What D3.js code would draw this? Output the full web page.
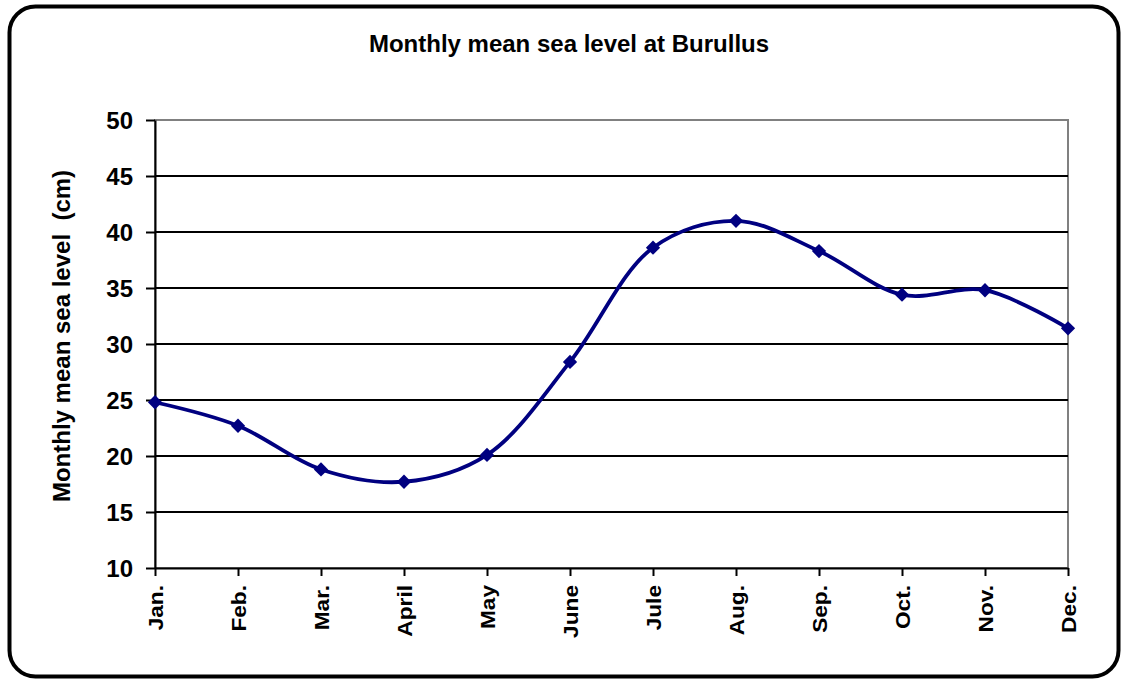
<!DOCTYPE html>
<html>
<head>
<meta charset="utf-8">
<script src="https://cdn.jsdelivr.net/npm/d3@7"></script>
<style>
  body { margin: 0; background: #fff; }
  text { font-family: "Liberation Sans", Arial, sans-serif; font-weight: bold; fill: #000; }
</style>
</head>
<body>
<div id="chart"></div>
<script>
// data
var months = ["Jan.", "Feb.", "Mar.", "April", "May", "June", "Jule", "Aug.", "Sep.", "Oct.", "Nov.", "Dec."];
var seaLevel = [24.8, 22.7, 18.8, 17.7, 20.1, 28.4, 38.6, 41.0, 38.3, 34.4, 34.8, 31.4];
var yTicks = [10, 15, 20, 25, 30, 35, 40, 45, 50];

var W = 1121, H = 681;
var margin = {top: 120, right: 53, bottom: 113, left: 155},
    width = W - margin.left - margin.right,
    height = H - margin.top - margin.bottom;

var svg = d3.select("#chart").append("svg")
    .attr("width", W)
    .attr("height", H);

// outer frame
svg.append("rect")
    .attr("x", 9.5).attr("y", 6.5)
    .attr("width", 1109).attr("height", 670)
    .attr("rx", 26).attr("ry", 26)
    .attr("fill", "#fff")
    .attr("stroke", "#000")
    .attr("stroke-width", 4);

var g = svg.append("g")
    .attr("transform", `translate(${margin.left}, ${margin.top})`);

var x = d3.scalePoint().domain(months).range([0, width]);
var y = d3.scaleLinear().domain([10, 50]).range([height, 0]);

// plot border (gray)
g.append("rect")
    .attr("x", 0).attr("y", 0)
    .attr("width", width).attr("height", height)
    .attr("fill", "none")
    .attr("stroke", "#808080")
    .attr("stroke-width", 2);

// gridlines
g.selectAll("line.grid")
    .data(yTicks.filter(d => d > 10 && d < 50))
    .enter().append("line")
    .attr("class", "grid")
    .attr("x1", 0).attr("x2", width)
    .attr("y1", d => y(d)).attr("y2", d => y(d))
    .attr("stroke", "#000")
    .attr("stroke-width", 2);

// y axis
var yAxis = g.append("g")
    .call(d3.axisLeft(y).tickValues(yTicks).tickSize(9).tickPadding(13).tickSizeOuter(0));
yAxis.selectAll("text").style("font-size", "24px").attr("dy", "0.36em");
yAxis.selectAll("line, path").attr("stroke", "#000").attr("stroke-width", 2);

// x axis
var sx = 1.08;
var xAxis = g.append("g")
    .attr("transform", `translate(0, ${height})`)
    .call(d3.axisBottom(x).tickSize(8).tickSizeOuter(0));
xAxis.select("path").attr("stroke", "#000").attr("stroke-width", 2);
xAxis.selectAll("line").attr("stroke", "#000").attr("stroke-width", 2);
xAxis.selectAll("text")
    .style("font-size", "21px")
    .style("text-anchor", "end")
    .attr("transform", `rotate(-90) scale(${sx},1)`)
    .attr("x", -17 / sx)
    .attr("y", 0)
    .attr("dy", "0.36em");

// line
var line = d3.line()
    .x((d, i) => x(months[i]))
    .y(d => y(d))
    .curve(d3.curveCatmullRom.alpha(0.5));

g.append("path")
    .datum(seaLevel)
    .attr("fill", "none")
    .attr("stroke", "#000080")
    .attr("stroke-width", 3.8)
    .attr("d", line);

// diamond markers
g.selectAll("path.marker")
    .data(seaLevel)
    .enter().append("path")
    .attr("class", "marker")
    .attr("d", d3.symbol().type(d3.symbolDiamond2).size(130))
    .attr("transform", (d, i) => `translate(${x(months[i])}, ${y(d)})`)
    .attr("fill", "#000080");

// title
svg.append("text")
    .attr("x", 569).attr("y", 52)
    .style("text-anchor", "middle")
    .style("font-size", "24px")
    .text("Monthly mean sea level at Burullus");

// y label
svg.append("text")
    .attr("transform", "rotate(-90)")
    .attr("x", -336)
    .attr("y", 70)
    .style("text-anchor", "middle")
    .style("font-size", "24px")
    .style("white-space", "pre")
    .text("Monthly mean sea level  (cm)");
</script>
</body>
</html>
